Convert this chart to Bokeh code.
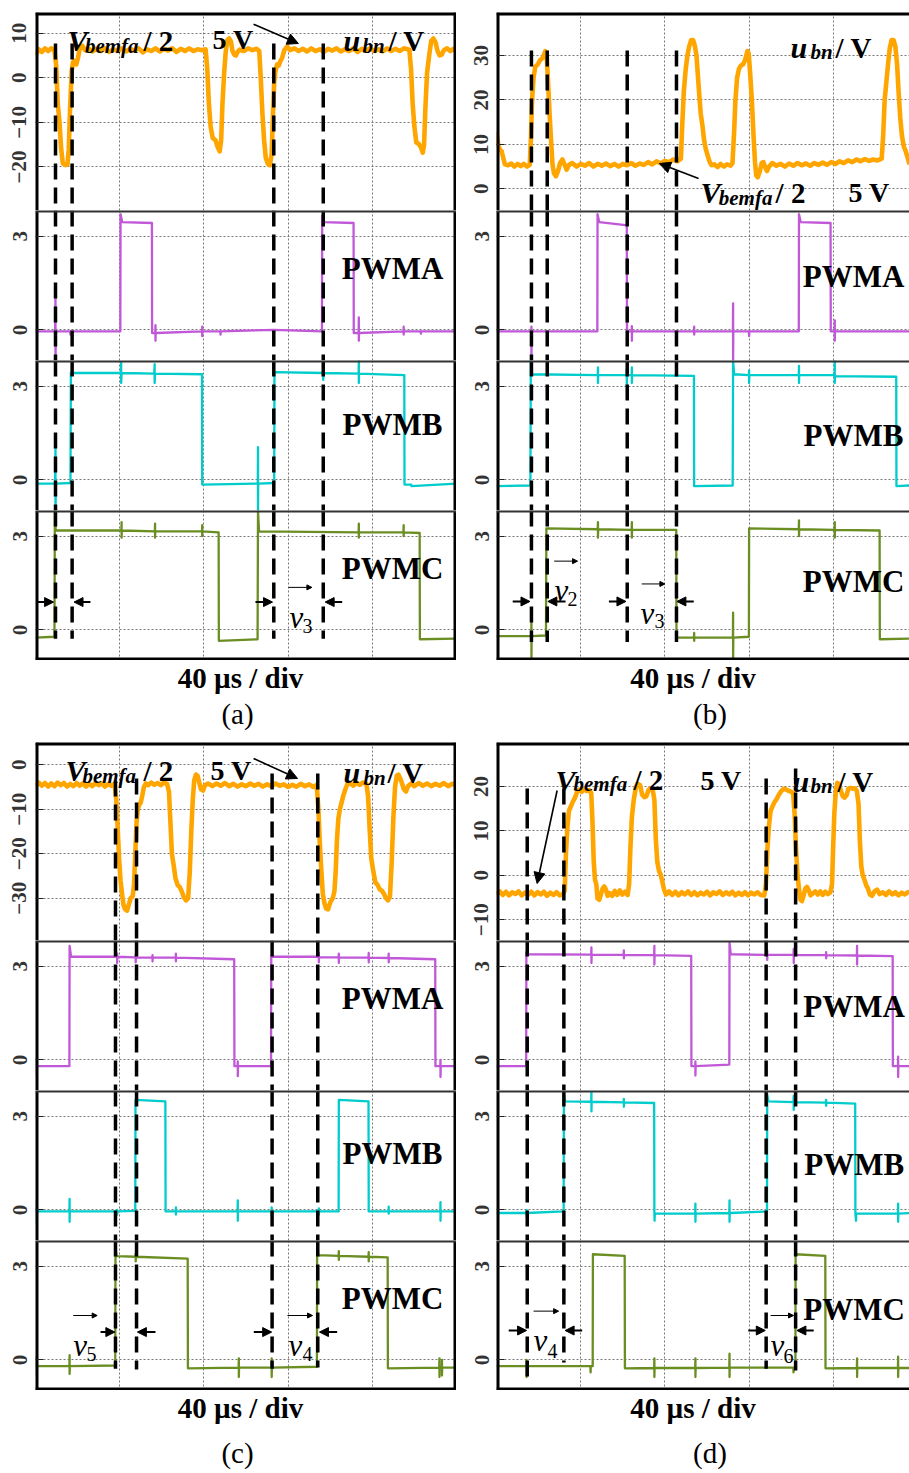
from bokeh.plotting import figure
from bokeh.layouts import column, row
from bokeh.models import Range1d, FixedTicker, Grid, Arrow, NormalHead, Label
from bokeh.embed import file_html
from bokeh.resources import INLINE

SERIF = "Liberation Serif"
C_U = "#FFA500"
C_A = "#C058D8"
C_B = "#00CCCC"
C_C = "#6B8E23"
GRID_C = "#777777"

GRID_T = [40, 80, 120, 160]
PWM_TICKS = [0, 3]
PWM_RANGE = (-0.98, 3.82)

# ---------------- panel (a) ----------------
A_U_RANGE = (-29.76, 14.64)
A_U_TICKS = [-20, -10, 0, 10]
A_UBN = [(0,5.0),(1.5,6.4),(3,5.8),(4.5,6.6),(6,6.0),(7.5,6.6),(9,6.2),(9.8,3.0),(10.6,-6),(11.4,-10),(12.2,-16),
         (13.0,-19.2),(14.2,-19.6),(15.2,-19.4),(15.8,-16),(16.5,-6),(17.2,1.5),(17.8,3.5),(18.6,3.8),(19.4,3.0),
         (20.2,4.5),(21.0,6.5),(22.2,7.2),(23.5,6.2),(25,6.6),(27,5.9),(29,6.5),(31,6.0),(33,6.6),(35,5.8),(37,6.4),
         (39,6.0),(41,6.6),(43,5.9),(45,6.5),(47,6.1),(49,6.6),(51,5.7),(53,6.4),(55,6.0),(57,6.6),(59,5.9),(61,6.5),
         (63,6.1),(65,6.6),(67,5.8),(69,6.5),(71,6.0),(73,6.6),(75,6.0),(77,6.4),(79,6.2),(80.8,6.4),(81.6,2.0),
         (82.4,-6),(83.2,-11),(84.2,-13.5),(85.5,-14),(86.5,-15.5),(87.5,-16.5),(88.2,-14),(88.8,-6),(89.6,1),
         (90.4,6),(91.2,8.5),(92.0,8.8),(92.8,8.2),(93.6,6.0),(94.4,5.2),(95.2,5.0),(96.0,5.8),(97,6.3),(99,6.0),
         (101,6.6),(103,6.2),(105,6.5),(106.3,6.0),(107.0,0),(107.8,-8),(108.6,-14),(109.4,-18),(110.4,-19.3),
         (111.4,-19.6),(112.2,-17),(112.8,-8),(113.4,-1),(114.0,1.5),(114.8,3.0),(115.6,2.8),(116.4,3.8),(117.2,4.5),
         (118.2,6.2),(119.5,7.0),(121,6.2),(123,6.6),(125,6.0),(127,6.5),(129,5.9),(131,6.6),(133,6.0),(135,6.4),
         (137,5.8),(139,6.5),(141,6.1),(143,6.6),(145,5.9),(147,6.4),(149,6.0),(151,6.6),(153,5.8),(155,6.5),
         (157,6.1),(159,6.6),(161,6.0),(163,6.4),(165,5.9),(167,6.6),(169,6.0),(171,6.5),(173,6.0),(175,6.6),
         (177.6,6.3),(178.4,2),(179.2,-6),(180.0,-11),(180.9,-14.5),(182.0,-14.8),(183.0,-15.5),(184.0,-16.8),
         (184.6,-15),(185.2,-7),(186.0,1),(187.0,5),(188.0,8.3),(189.0,8.8),(190.0,8.0),(191.0,6.0),(192.0,5.0),
         (193.0,5.2),(194.0,6.2),(195.5,6.6),(197,6.0),(198.5,6.5),(200,5.8)]
A_PWMA = [(0,-0.05),(9.3,-0.05),(9.5,1.1),(9.5,-0.95),(9.7,-0.05),(16.5,-0.05),(16.6,-0.15),(16.7,-0.05),
          (40.3,-0.05),(40.4,3.7),(41.2,3.45),(55.3,3.42),(55.4,-0.1),(56.9,-0.1),(57.0,0.15),(57.0,-0.35),
          (57.1,-0.1),(79.1,-0.05),(79.2,0.1),(79.2,-0.2),(79.3,-0.05),(87.8,-0.05),(87.9,-0.15),(88.0,-0.05),
          (113.2,0.0),(136.1,-0.05),(136.2,3.65),(137.0,3.45),(151.1,3.42),(151.2,-0.1),(153.5,-0.1),(153.6,0.4),
          (153.6,-0.35),(153.7,-0.1),(174.8,-0.05),(174.9,0.1),(174.9,-0.15),(175.0,-0.05),(183,-0.05),
          (183.1,-0.12),(183.2,-0.05),(200,-0.05)]
A_PWMB = [(0,-0.12),(9.3,-0.12),(9.5,1.0),(9.5,-1.0),(9.7,-0.12),(16.6,-0.1),(16.8,3.42),(40.5,3.42),(40.7,3.75),
          (40.7,3.1),(40.9,3.42),(56.4,3.4),(56.6,3.7),(56.6,3.1),(56.8,3.4),(79.1,3.38),(79.2,-0.15),(105.6,-0.12),
          (105.7,1.05),(105.7,-1.0),(105.8,-0.12),(113.4,-0.1),(113.5,3.45),(136.6,3.42),(136.7,3.75),(136.7,3.2),
          (136.8,3.42),(153.5,3.4),(153.6,3.8),(153.6,3.1),(153.7,3.4),(175.2,3.35),(175.3,-0.15),(178.5,-0.15),
          (178.6,-0.2),(200,-0.12)]
A_PWMC = [(0,-0.25),(9.0,-0.22),(9.2,3.8),(9.6,3.18),(40.8,3.18),(40.9,3.45),(40.9,2.95),(41.0,3.18),(56.7,3.15),
          (56.8,3.4),(56.8,2.95),(56.9,3.15),(79.1,3.15),(79.2,3.35),(79.2,3.0),(79.3,3.15),(87.0,3.12),(87.1,-0.35),
          (105.5,-0.3),(105.7,3.8),(106.2,3.15),(153.5,3.12),(153.6,3.4),(153.6,2.95),(153.7,3.12),(174.8,3.12),
          (174.9,3.35),(174.9,3.0),(175.0,3.12),(182.5,3.1),(182.6,-0.3),(200,-0.28)]
A_DASH_T = [9.5, 17.4, 113.2, 136.7]
A_DASH_TOP = [7.69, 7.69, 7.69, 7.69]
A_DASH_BOT = [-0.28, -0.28, -0.28, -0.28]

# ---------------- panel (b) ----------------
B_U_RANGE = (-4.88, 39.68)
B_U_TICKS = [0, 10, 20, 30]
B_UBN = [(0,12.8),(0.8,10),(1.6,8.8),(2.4,8.5),(3.2,7.0),(4.0,5.5),(5.5,5.3),(7,5.7),(8.5,5.0),(10,5.6),(11.5,5.1),
         (13,5.6),(14.5,5.0),(15.8,5.4),(16.4,12),(16.9,20),(17.6,25),(18.4,27.5),(19.6,28),(20.8,29),(22,29.5),
         (23.2,31),(23.8,30.5),(24.5,24),(25.2,17),(25.9,11),(26.6,5.5),(27.3,3.5),(28.2,2.8),(29.2,4.0),(30.2,5.8),
         (31.3,6.6),(32.3,5.5),(33.3,4.3),(34.5,5.4),(36,5.8),(38,5.0),(40,5.6),(42,5.2),(44,5.8),(46,5.0),(48,5.6),
         (50,5.2),(52,5.7),(54,5.1),(56,5.6),(58,5.0),(60,5.6),(62,5.3),(64,5.8),(66,5.2),(68,5.7),(70,5.4),(72,6.0),
         (74,5.5),(76,6.2),(78,5.7),(80,6.3),(82,6.0),(84,6.6),(86,6.2),(87.6,6.8),(88.3,15),(89.0,22),(89.9,27),
         (90.7,30),(91.5,32),(92.5,33.5),(93.4,33.5),(94.3,32),(95.0,30),(95.6,26),(96.2,22),(97.0,17),(97.9,14),
         (98.6,11),(99.4,9),(100.3,7.5),(101.3,6),(102.2,5.3),(103.5,5.5),(105,4.9),(106.5,5.6),(108,5.0),
         (109.5,5.5),(111.2,5.2),(112.1,5.8),(112.9,13),(113.5,20),(114.3,25),(115.2,27),(116.2,27.8),(117.1,28),
         (118.1,29),(119.2,31),(119.8,30.5),(120.5,26),(121.3,20),(122.1,12),(122.8,6),(123.4,3.0),(124.1,2.6),
         (125.0,3.8),(126.0,5.8),(126.8,6.0),(127.7,4.8),(128.5,4.0),(129.5,5.0),(131,5.8),(133,5.2),(135,5.6),
         (137,5.0),(139,5.7),(141,5.2),(143,5.8),(145,5.3),(147,5.7),(149,5.2),(151,5.8),(153,5.4),(155,5.9),
         (157,5.4),(159,6.0),(161,5.6),(163,6.2),(165,5.8),(167,6.4),(169,6.0),(171,6.6),(173,6.2),(175,6.7),
         (177,6.3),(179,6.6),(181,6.4),(183.0,6.8),(183.7,12),(184.4,20),(185.2,24),(186.0,28),(186.8,31.5),
         (187.7,33.5),(188.6,33.5),(189.5,32),(190.3,28),(191.0,22),(191.8,16),(192.6,12),(193.5,9.5),(194.4,8.5),
         (195.3,7.0),(196.2,5.5)]
B_PWMA = [(0,-0.05),(16.5,-0.05),(16.6,0.1),(16.6,-0.95),(16.7,-0.05),(47.9,-0.05),(48.0,3.7),(48.8,3.45),
          (61.3,3.35),(61.9,3.35),(62.0,-0.05),(64.2,-0.05),(64.3,0.12),(64.3,-0.35),(64.4,-0.05),(93.8,-0.05),
          (93.9,0.1),(93.9,-0.15),(94.0,-0.05),(112.3,-0.05),(112.4,0.85),(112.4,-0.98),(112.5,-0.05),(119.9,-0.05),
          (120.0,-0.2),(120.1,-0.05),(143.6,-0.05),(143.7,3.7),(144.5,3.45),(158.7,3.42),(158.8,-0.05),(160.6,-0.05),
          (160.7,0.3),(160.7,-0.35),(160.8,-0.05),(196.2,-0.05)]
B_PWMB = [(0,-0.2),(16.1,-0.18),(16.3,3.8),(16.8,3.38),(48.1,3.35),(48.2,3.6),(48.2,3.1),(48.3,3.35),(61.8,3.35),
          (61.9,3.55),(61.9,3.0),(62.0,3.35),(64.2,3.35),(64.3,3.6),(64.3,3.1),(64.4,3.35),(93.8,3.33),(93.9,-0.2),
          (112.2,-0.18),(112.4,3.8),(112.9,3.38),(119.9,3.35),(120.0,3.5),(120.0,3.1),(120.1,3.35),(143.6,3.35),
          (143.7,3.65),(143.7,3.1),(143.8,3.35),(160.6,3.35),(160.7,3.8),(160.7,3.1),(160.8,3.32),(189.9,3.3),
          (190.0,-0.2),(196.2,-0.18)]
B_PWMC = [(0,-0.2),(16.5,-0.2),(16.6,0.3),(16.6,-0.98),(16.7,-0.2),(23.5,-0.18),(23.7,3.25),(48.1,3.22),(48.2,3.45),
          (48.2,2.95),(48.3,3.22),(64.2,3.2),(64.3,3.45),(64.3,2.95),(64.4,3.2),(85.4,3.2),(85.5,-0.25),(93.8,-0.25),
          (93.9,-0.1),(93.9,-0.35),(94.0,-0.25),(112.3,-0.25),(112.4,0.55),(112.4,-0.98),(112.5,-0.25),(119.9,-0.22),
          (120.0,3.25),(143.6,3.22),(143.7,3.5),(143.7,3.0),(143.8,3.22),(160.6,3.2),(160.7,3.45),(160.7,2.95),
          (160.8,3.2),(182.0,3.18),(182.1,-0.3),(196.2,-0.28)]
B_DASH_T = [16.6, 24.1, 62.1, 85.5]
B_DASH_TOP = [31.1, 31.1, 31.1, 31.1]
B_DASH_BOT = [-0.39, -0.39, -0.39, -0.39]

# ---------------- panel (c) ----------------
C_U_RANGE = (-39.51, 5.01)
C_U_TICKS = [-30, -20, -10, 0]
C_UBN = [(0,-4.8),(1.5,-4.0),(3,-4.7),(4.5,-4.1),(6,-4.9),(7.5,-4.2),(9,-4.8),(10.5,-4.0),(12,-4.6),(13.5,-4.1),
         (15,-4.9),(16.5,-4.3),(18,-4.8),(19.5,-4.1),(21,-4.7),(22.5,-4.2),(24,-4.9),(25.5,-4.3),(27,-4.8),
         (28.5,-4.1),(30,-4.6),(31.5,-4.2),(33,-4.9),(34.5,-4.3),(36,-4.7),(37.6,-4.3),(38.4,-8),(39.0,-14),
         (39.7,-21),(40.4,-26),(41.1,-29),(41.8,-31.5),(42.6,-32.5),(43.5,-32.8),(44.3,-31.5),(45.2,-30),
         (46.2,-29.5),(46.8,-27),(47.4,-20),(48.0,-13),(48.6,-10),(49.3,-9),(50.0,-8.5),(50.7,-7),(51.5,-5),
         (52.4,-4.2),(53.5,-4.6),(55,-4.0),(56.5,-4.5),(58,-4.1),(59.5,-4.6),(61,-4.0),(62.5,-4.3),(63.4,-6),
         (64.0,-12),(64.8,-20),(65.6,-22.5),(66.5,-25.5),(67.5,-27),(68.5,-27.5),(69.5,-28.5),(70.5,-29.8),
         (71.5,-30.5),(72.5,-30),(73.3,-24),(74.0,-15),(74.7,-8),(75.4,-3.5),(76.2,-2.2),(77.0,-2.5),(77.8,-4.0),
         (78.6,-5.5),(79.6,-5.8),(80.5,-4.6),(82,-4.2),(84,-4.8),(86,-4.2),(88,-4.7),(90,-4.1),(92,-4.8),(94,-4.3),
         (96,-4.9),(98,-4.4),(100,-4.8),(102,-4.2),(104,-4.7),(106,-4.3),(108,-4.9),(110,-4.4),(112,-4.8),
         (114,-4.2),(116,-4.7),(118,-4.4),(120,-5.0),(122,-4.5),(124,-4.9),(126,-4.3),(128,-4.8),(130,-4.4),
         (132,-5.0),(133.6,-4.5),(134.4,-10),(135.1,-18),(135.8,-24),(136.5,-29),(137.2,-31),(138.0,-32.3),
         (139.0,-32.5),(140.0,-31),(141.2,-30),(142.0,-28.5),(142.6,-24),(143.2,-17),(143.9,-12),(144.6,-10),
         (145.4,-8.5),(146.2,-7),(147.2,-5.5),(148.2,-4.3),(149.5,-4.2),(151,-4.7),(152.5,-4.0),(154,-4.5),
         (155.5,-4.0),(157.2,-4.3),(158.0,-7),(158.7,-14),(159.5,-21),(160.5,-24),(161.5,-26.5),(162.5,-27),
         (163.5,-28),(164.5,-28.3),(165.5,-29),(166.5,-30),(167.5,-30.5),(168.4,-29.5),(169.2,-22),(170.0,-12),
         (170.8,-5),(171.6,-2.5),(172.4,-2.2),(173.2,-3.0),(174.0,-4.0),(175.0,-5.5),(176.0,-6.0),(177.0,-4.8),
         (178.5,-4.2),(180,-4.8),(182,-4.1),(184,-4.7),(186,-4.2),(188,-4.8),(190,-4.3),(192,-4.7),(194,-4.1),
         (196,-4.8),(198,-4.3),(200,-4.6)]
C_PWMA = [(0,-0.2),(0.5,-0.2),(0.6,0.0),(0.6,-0.5),(0.7,-0.2),(16.1,-0.2),(16.2,3.65),(16.9,3.3),(38.7,3.3),
          (38.8,3.4),(38.8,3.1),(38.9,3.3),(47.5,3.28),(47.6,3.38),(47.6,3.12),(47.7,3.28),(55.5,3.27),(55.6,3.35),
          (55.6,3.15),(55.7,3.27),(66.6,3.27),(66.7,3.4),(66.7,3.15),(66.8,3.27),(94.4,3.22),(94.5,-0.2),(96.0,-0.2),
          (96.1,-0.05),(96.1,-0.52),(96.2,-0.2),(111.9,-0.2),(112.0,3.3),(134.5,3.3),(134.6,3.42),(134.6,3.12),
          (134.7,3.28),(144.0,3.28),(144.1,3.4),(144.1,3.1),(144.2,3.28),(158.2,3.27),(158.3,3.42),(158.3,3.12),
          (158.4,3.27),(167.7,3.26),(167.8,3.4),(167.8,3.12),(167.9,3.26),(189.9,3.22),(190.0,-0.2),(192.3,-0.2),
          (192.4,0.0),(192.4,-0.55),(192.5,-0.2),(200,-0.2)]
C_PWMB = [(0,-0.05),(0.5,-0.05),(0.6,0.3),(0.6,-0.4),(0.7,-0.05),(16.1,-0.05),(16.2,0.35),(16.2,-0.38),(16.3,-0.05),
          (38.7,-0.05),(38.8,0.0),(38.8,-0.15),(38.9,-0.05),(47.4,-0.03),(47.5,3.52),(61.7,3.47),(61.8,-0.05),
          (66.6,-0.05),(66.7,0.08),(66.7,-0.15),(66.8,-0.05),(96.0,-0.05),(96.1,0.3),(96.1,-0.35),(96.2,-0.05),
          (112.1,-0.05),(112.2,0.08),(112.2,-0.18),(112.3,-0.05),(134.5,-0.05),(134.6,0.05),(134.6,-0.15),
          (134.7,-0.05),(144.0,-0.05),(144.1,3.52),(158.2,3.47),(158.3,-0.05),(167.7,-0.05),(167.8,0.1),
          (167.8,-0.12),(167.9,-0.05),(192.3,-0.05),(192.4,0.25),(192.4,-0.35),(192.5,-0.05),(200,-0.05)]
C_PWMC = [(0,-0.2),(0.5,-0.2),(0.6,0.1),(0.6,-0.5),(0.7,-0.2),(16.1,-0.2),(16.2,0.15),(16.2,-0.45),(16.3,-0.2),
          (37.9,-0.18),(38.0,3.55),(38.6,3.32),(47.5,3.3),(47.6,3.4),(47.6,3.15),(47.7,3.3),(72.3,3.24),(72.4,-0.27),
          (96.5,-0.25),(96.6,0.05),(96.6,-0.55),(96.7,-0.25),(112.1,-0.25),(112.2,0.05),(112.2,-0.55),(112.3,-0.25),
          (133.7,-0.22),(133.8,3.8),(134.3,3.35),(144.0,3.33),(144.1,3.48),(144.1,3.2),(144.2,3.33),(158.2,3.3),
          (158.3,3.45),(158.3,3.15),(158.4,3.3),(167.3,3.28),(167.4,-0.27),(191.8,-0.25),(191.9,0.05),(191.9,-0.55),
          (192.0,-0.25),(193.0,-0.25),(193.1,0.0),(193.1,-0.5),(193.2,-0.25),(200,-0.25)]
C_DASH_T = [38.0, 48.0, 112.4, 134.1]
C_DASH_TOP = [-3.54, -3.09, -1.96, -1.96]
C_DASH_BOT = [-0.28, -0.31, -0.28, -0.24]

# ---------------- panel (d) ----------------
D_U_RANGE = (-14.66, 29.9)
D_U_TICKS = [-10, 0, 10, 20]
D_UBN = [(0,-4.3),(1.5,-3.6),(3,-4.4),(4.5,-3.7),(6,-4.5),(7.5,-3.8),(9,-4.2),(10.5,-3.6),(12,-4.5),(13.5,-3.9),
         (15,-4.4),(16.5,-3.7),(18,-4.5),(19.5,-3.8),(21,-4.3),(22.5,-3.7),(24,-4.6),(25.5,-3.9),(27,-4.4),
         (28.5,-3.8),(30,-4.5),(31.5,-4.2),(32.4,-3.5),(33.0,5),(33.7,11),(34.4,14.5),(35.3,15.5),(36.2,16.5),
         (37.3,17.5),(38.3,18.8),(39.3,19.3),(40.5,18.8),(41.6,19.5),(42.8,19.0),(44.0,19.2),(45.0,18.5),(45.6,12),
         (46.2,3),(46.8,-1),(47.4,-2),(48.0,-5.2),(48.8,-5.5),(49.6,-4.3),(50.4,-3.0),(51.2,-2.5),(52.0,-3.2),
         (52.8,-4.6),(53.8,-4.0),(55,-4.6),(56.2,-3.5),(57.4,-4.4),(58.6,-3.4),(59.8,-4.3),(61.0,-3.7),(62.3,-4.4),
         (63.0,-2),(63.6,6),(64.3,13),(65.2,17),(66.3,20),(67.2,20.6),(68.2,20.3),(69.2,18.2),(70.2,17.6),
         (71.2,17.8),(72.2,19.2),(73.2,19.6),(74.2,19.3),(75.0,17),(75.7,8),(76.4,3),(77.2,1),(78.0,0.2),(78.8,-1.5),
         (79.6,-3.2),(80.6,-4.3),(82,-3.6),(83.5,-4.4),(85,-3.7),(86.5,-4.5),(88,-3.8),(89.5,-4.3),(91,-3.6),
         (92.5,-4.4),(94,-3.8),(95.5,-4.5),(97,-3.9),(98.5,-4.3),(100,-3.7),(101.5,-4.5),(103,-3.8),(104.5,-4.2),
         (106,-3.6),(107.5,-4.4),(109,-3.8),(110.5,-4.3),(112,-3.7),(113.5,-4.5),(115,-3.9),(116.5,-4.4),(118,-3.8),
         (119.5,-4.5),(121,-3.9),(122.5,-4.3),(124,-3.8),(125.5,-4.4),(127.2,-4.5),(128.0,-2),(128.7,6),(129.4,11),
         (130.2,14.5),(131.1,15.5),(132.1,16.5),(133.1,17.2),(134.2,18.2),(135.3,19.0),(136.5,19.5),(137.7,19.3),
         (138.9,19.0),(140.0,18.8),(140.9,18.5),(141.6,14),(142.3,6),(143.0,0),(143.7,-3),(144.4,-5.5),(145.1,-5.8),
         (145.9,-4.5),(146.7,-3.0),(147.5,-2.6),(148.3,-3.3),(149.2,-4.5),(150.2,-4.1),(151.4,-3.6),(152.6,-4.3),
         (153.8,-3.6),(155,-4.4),(156.2,-3.7),(157.4,-4.2),(158.6,-3.8),(159.4,-2),(159.9,6),(160.5,14),(161.2,19),
         (161.9,20.8),(162.7,20.6),(163.6,19),(164.5,17.8),(165.4,17.5),(166.3,18),(167.2,19.5),(168.2,19.7),
         (169.2,19.5),(170.2,19.6),(171.2,19.0),(172.0,16),(172.6,8),(173.3,2),(174.0,0),(174.8,-1),(175.6,-2.2),
         (176.5,-3.0),(177.4,-4.3),(178.4,-4.6),(179.6,-3.6),(180.8,-3.2),(182,-4.2),(183.5,-3.8),(185,-4.4),
         (186.5,-3.6),(188,-4.3),(189.5,-3.8),(191,-4.5),(192.5,-3.9),(194,-4.3),(195.5,-3.8),(196.2,-4.1)]
D_PWMA = [(0,-0.2),(14.1,-0.2),(14.2,3.45),(15.0,3.38),(45.0,3.37),(45.1,3.6),(45.1,3.1),(45.2,3.37),(60.4,3.36),
          (60.5,3.5),(60.5,3.25),(60.6,3.36),(74.9,3.35),(75.0,3.65),(75.0,3.05),(75.1,3.35),(92.5,3.33),(92.6,-0.2),
          (94.4,-0.2),(94.5,-0.05),(94.5,-0.5),(94.6,-0.2),(110.6,-0.15),(110.7,3.75),(111.3,3.38),(128.5,3.36),
          (128.6,3.5),(128.6,3.2),(128.7,3.36),(141.1,3.36),(141.2,3.55),(141.2,3.1),(141.3,3.36),(156.5,3.35),
          (156.6,3.45),(156.6,3.25),(156.7,3.35),(171.2,3.34),(171.3,3.65),(171.3,3.05),(171.4,3.34),(188.2,3.32),
          (188.3,-0.2),(190.7,-0.2),(190.8,0.1),(190.8,-0.55),(190.9,-0.2),(196.2,-0.2)]
D_PWMB = [(0,-0.1),(14.2,-0.1),(14.3,0.0),(14.3,-0.2),(14.4,-0.1),(31.9,-0.05),(32.0,3.7),(32.6,3.47),(45.0,3.46),
          (45.1,3.75),(45.1,3.15),(45.2,3.46),(60.4,3.44),(60.5,3.55),(60.5,3.3),(60.6,3.44),(74.9,3.42),(75.0,-0.1),
          (75.1,-0.35),(75.2,-0.12),(94.4,-0.12),(94.5,0.2),(94.5,-0.38),(94.6,-0.12),(110.6,-0.1),(110.7,0.3),
          (110.7,-0.38),(110.8,-0.1),(128.5,-0.05),(128.6,3.7),(129.2,3.47),(141.1,3.45),(141.2,3.65),(141.2,3.2),
          (141.3,3.45),(156.5,3.43),(156.6,3.52),(156.6,3.33),(156.7,3.43),(170.4,3.4),(170.5,-0.12),(170.8,-0.35),
          (170.9,-0.12),(190.7,-0.12),(190.8,0.2),(190.8,-0.38),(190.9,-0.12),(196.2,-0.1)]
D_PWMC = [(0,-0.2),(14.2,-0.2),(14.3,0.0),(14.3,-0.55),(14.4,-0.2),(44.6,-0.2),(44.7,-0.4),(44.8,-0.2),(45.7,-0.2),
          (45.8,3.38),(60.9,3.33),(61.0,-0.27),(74.9,-0.26),(75.0,0.05),(75.0,-0.55),(75.1,-0.26),(94.4,-0.26),
          (94.5,0.05),(94.5,-0.55),(94.6,-0.26),(110.6,-0.25),(110.7,0.2),(110.7,-0.55),(110.8,-0.25),(141.0,-0.25),
          (141.1,-0.4),(141.3,-0.25),(142.0,-0.25),(142.1,3.38),(156.2,3.33),(156.3,-0.27),(171.2,-0.26),
          (171.3,0.05),(171.3,-0.55),(171.4,-0.26),(190.7,-0.26),(190.8,0.1),(190.8,-0.55),(190.9,-0.26),(196.2,-0.26)]
D_DASH_T = [14.6, 32.0, 128.1, 142.1]
D_DASH_TOP = [19.55, 19.55, 21.8, 24.05]
D_DASH_BOT = [-0.56, -0.08, -0.28, -0.34]

PWM_NAMES = ["PWMA", "PWMB", "PWMC"]


def sub(xmax, yr, ticks, left, fw, fh, top, standoff):
    p = figure(width=left + fw, height=top + fh, x_range=Range1d(0, xmax), y_range=Range1d(yr[0], yr[1]),
               output_backend="svg", toolbar_location=None, x_axis_location=None,
               min_border_left=left, min_border_right=0, min_border_top=top, min_border_bottom=0)
    p.outline_line_color = None
    p.grid.visible = False
    p.add_layout(Grid(dimension=0, ticker=FixedTicker(ticks=GRID_T), grid_line_color=GRID_C,
                      grid_line_dash="2 2", grid_line_width=1))
    p.add_layout(Grid(dimension=1, ticker=FixedTicker(ticks=ticks), grid_line_color=GRID_C,
                      grid_line_dash="2 2", grid_line_width=1))
    ax = p.yaxis[0]
    ax.ticker = FixedTicker(ticks=ticks)
    ax.axis_line_color = None
    ax.major_tick_in = 8
    ax.major_tick_out = 0
    ax.major_tick_line_color = "#222222"
    ax.minor_tick_line_color = None
    ax.major_label_orientation = "vertical"
    ax.major_label_standoff = standoff
    ax.major_label_text_font = SERIF
    ax.major_label_text_font_style = "bold"
    ax.major_label_text_font_size = "21px"
    ax.major_label_text_color = "#333333"
    return p


def borders(p, xmax, yr, right_edge, top_w, top_c, bottom_w):
    p.line([0, 0], [yr[0], yr[1]], line_width=6, line_color="black")
    if right_edge:
        p.line([xmax, xmax], [yr[0], yr[1]], line_width=6, line_color="black")
    if top_w:
        p.line([0, xmax], [yr[1], yr[1]], line_width=top_w, line_color=top_c)
    if bottom_w:
        p.line([0, xmax], [yr[0], yr[0]], line_width=bottom_w, line_color="black")


def txt(p, x, y, s, style="bold", size=29, align="left", baseline="alphabetic"):
    p.add_layout(Label(x=x, y=y, text=s, text_font=SERIF, text_font_style=style,
                       text_font_size=f"{size}px", text_align=align, text_baseline=baseline,
                       text_color="black"))


def arr(p, x0, y0, x1, y1, w=2.0, size=9):
    p.add_layout(Arrow(x_start=x0, y_start=y0, x_end=x1, y_end=y1, line_width=w, line_color="black",
                       end=NormalHead(size=size, fill_color="black", line_color="black", line_width=1)))


def panel(xmax, left, fw, top, standoff, u_range, u_ticks, ubn, pwms, dash_t, dash_top, dash_bot):
    figs = []
    fu = sub(xmax, u_range, u_ticks, left, fw, 198, top, standoff)
    fu.line([t for t, v in ubn], [v for t, v in ubn], line_width=4.6, line_color=C_U, line_join="round")
    fu.segment(x0=dash_t, y0=dash_top, x1=dash_t, y1=[u_range[0]] * len(dash_t),
               line_width=3.5, line_color="black", line_dash="16 8")
    figs.append(fu)
    for i, (data, col) in enumerate(zip(pwms, [C_A, C_B, C_C])):
        f = sub(xmax, PWM_RANGE, PWM_TICKS, left, fw, 150, 0, standoff)
        f.line([t for t, v in data], [v for t, v in data], line_width=2.3, line_color=col, line_join="round")
        bot = dash_bot if i == 2 else [PWM_RANGE[0]] * len(dash_t)
        f.segment(x0=dash_t, y0=[PWM_RANGE[1]] * len(dash_t), x1=dash_t, y1=bot,
                  line_width=3.5, line_color="black", line_dash="16 8")
        figs.append(f)
    return figs


def finish(figs, xmax, u_range, right_edge):
    borders(figs[0], xmax, u_range, right_edge, 6, "black", 0)
    borders(figs[1], xmax, PWM_RANGE, right_edge, 4, "#333333", 0)
    borders(figs[2], xmax, PWM_RANGE, right_edge, 4, "#333333", 0)
    borders(figs[3], xmax, PWM_RANGE, right_edge, 4, "#333333", 6)


def caption(left, fw, h, x1, y1, x2, y2, letter):
    # frame is aligned with the plots above; x data = page pixel within the panel
    c = figure(width=left + fw, height=h, x_range=Range1d(left, left + fw), y_range=Range1d(h, 0),
               output_backend="svg", toolbar_location=None, x_axis_location=None, y_axis_location=None,
               min_border_left=left, min_border_right=0, min_border_top=0, min_border_bottom=0)
    c.outline_line_color = None
    c.grid.visible = False
    txt(c, x1, y1, "40 µs / div", "bold", 29, "center", "middle")
    txt(c, x2, y2, letter, "normal", 29, "center", "middle")
    return c


def ubn_labels(p, vx, vy, bx, by, sx, ux, uy, nx, ny, fx, fivex, fivey):
    txt(p, vx, vy, "V", "bold italic", 30)
    txt(p, bx, by, "bemfa", "bold italic", 21)
    txt(p, sx, vy, "/ 2", "bold", 29)
    txt(p, fivex, fivey, "5 V", "bold", 28)
    txt(p, ux, uy, "u", "bold italic", 30)
    txt(p, nx, ny, "bn", "bold italic", 21)
    txt(p, fx, uy, "/ V", "bold", 29)


def v_label(p, x, y, sub_txt, sx, sy, ax0, ax1, ay):
    txt(p, x, y, "v", "italic", 31)
    txt(p, sx, sy, sub_txt, "normal", 20)
    arr(p, ax0, ay, ax1, ay, w=1.0, size=5)


# ----- panel a -----
fa = panel(200, 35, 421, 12, 9, A_U_RANGE, A_U_TICKS, A_UBN, [A_PWMA, A_PWMB, A_PWMC],
           A_DASH_T, A_DASH_TOP, A_DASH_BOT)
ubn_labels(fa[0], 15.2, 8.36, 23.5, 7.24, 51.3, 146.3, 8.36, 155.3, 7.02, 167.7, 84.1, 8.59)
arr(fa[0], 103.6, 12.0, 124.9, 7.69, w=1.6, size=11)
for f, nm, y in zip(fa[1:], PWM_NAMES, [1.95, 1.77, 1.96]):
    txt(f, 169.6, y, nm, "bold", 31, "center", "middle")
pc = fa[3]
arr(pc, 0.8, 0.89, 8.6, 0.89)
arr(pc, 26.1, 0.89, 18.3, 0.89)
arr(pc, 104.5, 0.89, 112.6, 0.89)
arr(pc, 145.7, 0.89, 137.6, 0.89)
v_label(pc, 120.7, 0.40, "3", 126.8, 0.14, 120.2, 131.3, 1.36)
finish(fa, 200, A_U_RANGE, True)
cap_a = caption(35, 421, 82, 240, 17, 237, 53, "(a)")

# ----- panel b -----
fb = panel(196.2, 40, 413, 12, 8, B_U_RANGE, B_U_TICKS, B_UBN, [B_PWMA, B_PWMB, B_PWMC],
           B_DASH_T, B_DASH_TOP, B_DASH_BOT)
ubn_labels(fb[0], 96.9, -0.83, 105.6, -1.96, 132.6, 139.7, 31.8, 149.2, 30.7, 161.1, 167.2, -0.83)
arr(fb[0], 96.0, 2.3, 77.4, 5.7, w=1.6, size=11)
for f, nm, y in zip(fb[1:], PWM_NAMES, [1.71, 1.42, 1.55]):
    txt(f, 169.6, y, nm, "bold", 31, "center", "middle")
pc = fb[3]
arr(pc, 7.7, 0.91, 15.9, 0.91)
arr(pc, 32.8, 0.91, 24.4, 0.91)
arr(pc, 53.4, 0.91, 61.5, 0.91)
arr(pc, 93.7, 0.91, 85.7, 0.91)
v_label(pc, 27.6, 1.26, "2", 33.7, 1.0, 27.4, 38.5, 2.2)
v_label(pc, 68.4, 0.54, "3", 75.1, 0.30, 69.0, 80.0, 1.47)
finish(fb, 196.2, B_U_RANGE, False)
cap_b = caption(40, 413, 82, 236.5, 17, 253.5, 53, "(b)")

# ----- panel c -----
fc = panel(200, 35, 421, 0, 9, C_U_RANGE, C_U_TICKS, C_UBN, [C_PWMA, C_PWMB, C_PWMC],
           C_DASH_T, C_DASH_TOP, C_DASH_BOT)
ubn_labels(fc[0], 14.25, -1.29, 22.3, -2.41, 51.3, 146.3, -1.74, 155.8, -2.86, 167.2, 83.1, -1.29)
arr(fc[0], 103.6, 1.41, 124.5, -3.08, w=1.6, size=11)
for f, nm, y in zip(fc[1:], PWM_NAMES, [1.95, 1.80, 1.96]):
    txt(f, 169.6, y, nm, "bold", 31, "center", "middle")
pc = fc[3]
arr(pc, 30.9, 0.89, 37.7, 0.89)
arr(pc, 57.0, 0.89, 48.4, 0.89)
arr(pc, 103.7, 0.89, 112.2, 0.89)
arr(pc, 143.3, 0.89, 134.9, 0.89)
v_label(pc, 17.9, 0.46, "5", 24.2, 0.20, 17.9, 29.3, 1.42)
v_label(pc, 120.2, 0.46, "4", 126.8, 0.20, 119.7, 131.6, 1.42)
finish(fc, 200, C_U_RANGE, True)
cap_c = caption(35, 421, 83, 240, 17, 237, 62, "(c)")

# ----- panel d -----
fd = panel(196.2, 40, 413, 0, 8, D_U_RANGE, D_U_TICKS, D_UBN, [D_PWMA, D_PWMB, D_PWMC],
           D_DASH_T, D_DASH_TOP, D_DASH_BOT)
ubn_labels(fd[0], 28.0, 21.35, 36.6, 20.45, 65.1, 140.6, 21.12, 149.2, 20.0, 162.0, 96.9, 21.35)
arr(fd[0], 28.8, 19.1, 19.3, -1.84, w=1.6, size=11)
for f, nm, y in zip(fd[1:], PWM_NAMES, [1.71, 1.45, 1.61]):
    txt(f, 169.9, y, nm, "bold", 31, "center", "middle")
pc = fd[3]
arr(pc, 5.8, 0.94, 14.3, 0.94)
arr(pc, 40.7, 0.94, 32.6, 0.94)
arr(pc, 119.6, 0.94, 127.7, 0.94)
arr(pc, 150.7, 0.94, 142.7, 0.94)
v_label(pc, 17.6, 0.62, "4", 24.2, 0.30, 17.6, 29.5, 1.56)
v_label(pc, 130.2, 0.46, "6", 136.4, 0.14, 130.2, 141.1, 1.42)
finish(fd, 196.2, D_U_RANGE, False)
cap_d = caption(40, 413, 83, 236.5, 17, 253.5, 62, "(d)")

layout = column(
    row(column(*fa, cap_a), column(*fb, cap_b)),
    row(column(*fc, cap_c), column(*fd, cap_d)),
)

open("out.html", "w").write(file_html(layout, INLINE))
